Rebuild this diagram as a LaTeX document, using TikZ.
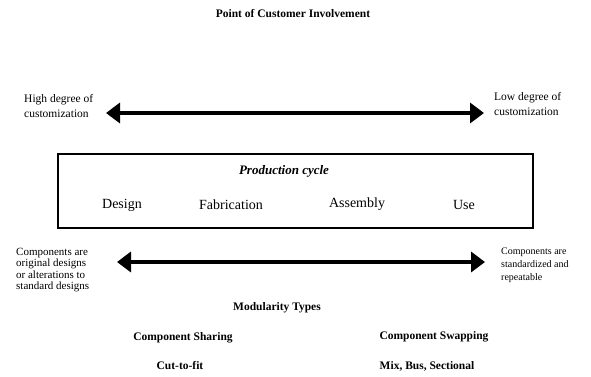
\documentclass[tikz,border=0pt]{standalone}
\usepackage{fontspec}
\setmainfont{Liberation Serif}
\usetikzlibrary{arrows.meta}
\begin{document}
\begin{tikzpicture}[x=1pt, y=-1pt,
    side/.style={align=left, anchor=west, font=\fontsize{11.5}{15}\selectfont, inner sep=0pt},
    stagetext/.style={font=\fontsize{14}{16}\selectfont, inner sep=0pt},
    label/.style={font=\bfseries\fontsize{11.5}{13}\selectfont, inner sep=0pt},
    arr/.style={{Triangle[length=14pt, width=20pt]}-{Triangle[length=14pt, width=20pt]}, line width=3.5pt},
  ]
  \useasboundingbox (0,0) rectangle (591,376);
  \node[label] (title) at (293,14) {Point of Customer Involvement};
  % customization scale
  \node[side] (high) at (24,106) {High degree of\\customization};
  \node[side] (low)  at (494,104) {Low degree of\\customization};
  \coordinate (topL) at (106,113);
  \coordinate (topR) at (484,113);
  \draw[arr] (topL) -- (topR);
  % production cycle box
  \node[draw, line width=1.2pt, minimum width=475pt, minimum height=74pt, inner sep=0pt] (cycle) at (295.5,191) {};
  \node[font=\bfseries\itshape\fontsize{13}{15}\selectfont, inner sep=0pt] (prod) at (284,171) {Production cycle};
  \node[stagetext] (design) at (122,205) {Design};
  \node[stagetext] (fab)    at (231,205) {Fabrication};
  \node[stagetext] (assem)  at (357,204) {Assembly};
  \node[stagetext] (use)    at (464,205) {Use};
  % component scale
  \node[side, anchor=north west, font=\fontsize{11}{11.3}\selectfont] (orig) at (16,248) {Components are\\original designs\\or alterations to\\standard designs};
  \node[side, font=\fontsize{10}{13}\selectfont] (std) at (501,265) {Components are\\standardized and\\repeatable};
  \coordinate (botL) at (117,262);
  \coordinate (botR) at (485,262);
  \draw[arr] (botL) -- (botR);
  % modularity types
  \node[label] (mod)   at (277,308) {Modularity Types};
  \node[label] (share) at (183,338) {Component Sharing};
  \node[label] (swap)  at (434,337) {Component Swapping};
  \node[label] (cut)   at (180,366) {Cut-to-fit};
  \node[label] (mix)   at (427,366) {Mix, Bus, Sectional};
\end{tikzpicture}
\end{document}
